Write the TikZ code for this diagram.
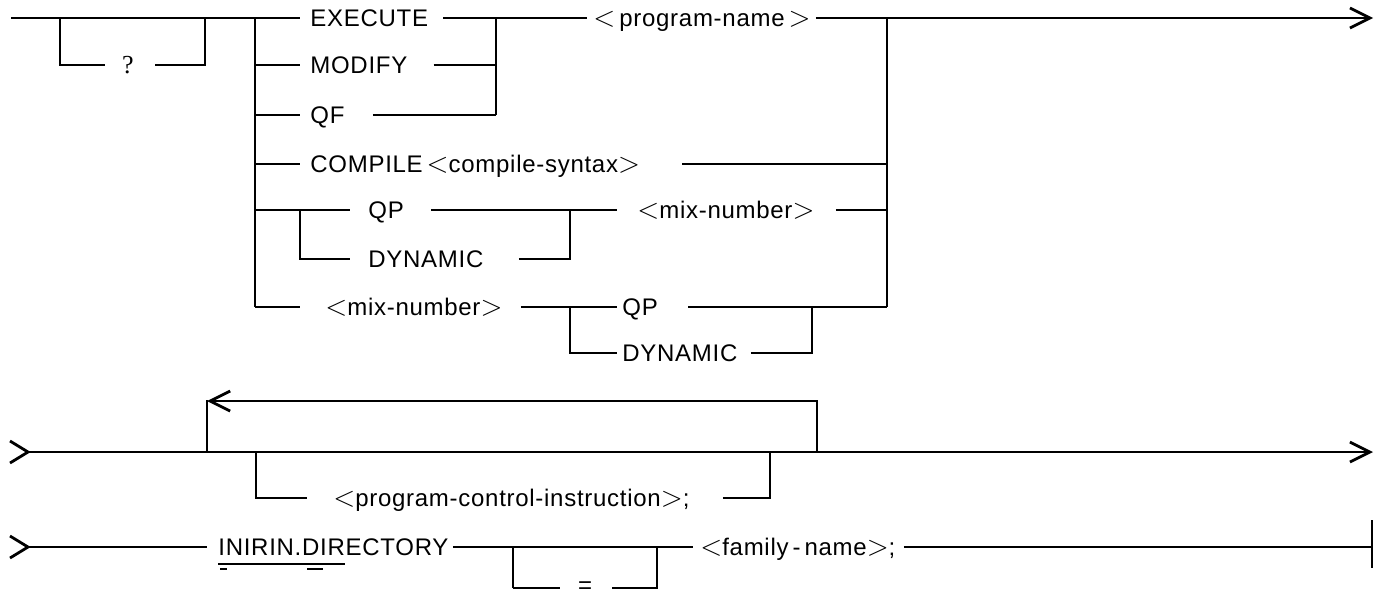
\documentclass[tikz,border=0pt]{standalone}
\usepackage{fontspec}
\setmainfont{Liberation Sans}[LetterSpace=3]
\newfontfamily\qmarkfont{Liberation Serif}
\usetikzlibrary{arrows.meta}
% angle brackets of the metalanguage, set a little larger than the text
\newcommand\metaLt{{\fontsize{14.5}{16}\selectfont\(<\)}}
\newcommand\metaGt{{\fontsize{14.5}{16}\selectfont\(>\)}}
\begin{document}
\begin{tikzpicture}[x=0.5pt,y=-0.5pt,
  rail/.style={line width=1.4pt, line join=miter},
  lbl/.style={anchor=west, inner sep=0pt, text height=8.6pt, text depth=0pt,
              font=\fontsize{12}{14}\selectfont},
  endarrow/.style={-{Straight Barb[length=10pt,width=10pt]}},
  ulmark/.style={line width=0.9pt}]
\useasboundingbox (0,0) rectangle (1379,596);

% ---------- first statement: ? and the command choices ----------
\coordinate (s0)  at (11,18);
\coordinate (qL)  at (60,18);
\coordinate (qR)  at (205,18);
\coordinate (J1t) at (255,18);
\coordinate (J1b) at (255,307);
\coordinate (J2t) at (496,18);
\coordinate (J3t) at (887,18);
\coordinate (J3b) at (887,307);
\coordinate (K1)  at (300,210);
\coordinate (K2)  at (570,210);
\coordinate (K3)  at (570,307);
\coordinate (K4)  at (812,307);
\coordinate (end1) at (1373,18);

\node[lbl, anchor=center, font=\qmarkfont\fontsize{13}{15}\selectfont] (q) at (128,65) {?};
\node[lbl] (exe)  at (310,18)  {EXECUTE};
\node[lbl] (mod)  at (310,65)  {MODIFY};
\node[lbl] (qf)   at (310,115) {QF};
\node[lbl] (cmp)  at (310,164) {COMPILE\,\metaLt compile-syntax\metaGt};
\node[lbl] (qp1)  at (368,210) {QP};
\node[lbl] (dyn1) at (368,259) {DYNAMIC};
\node[lbl] (mixa) at (637,210) {\metaLt mix-number\metaGt};
\node[lbl] (mixb) at (325,307) {\metaLt mix-number\metaGt};
\node[lbl] (qp2)  at (622,307) {QP};
\node[lbl] (dyn2) at (622,353) {DYNAMIC};
\node[lbl] (prog) at (593,18)  {\metaLt\,program-name\,\metaGt};

% optional ?
\draw[rail] (qL) |- ([xshift=-8.5pt]q.west);
\draw[rail] ([xshift=10.5pt]q.east) -| (qR);

% main rail and left branch point
\draw[rail] (s0) -- ([xshift=-5pt]exe.west);
\draw[rail] (J1t) -- (J1b);
\draw[rail] (J1t |- mod) -- ([xshift=-5pt]mod.west);
\draw[rail] (J1t |- qf)  -- ([xshift=-5pt]qf.west);
\draw[rail] (J1t |- cmp) -- ([xshift=-5pt]cmp.west);
\draw[rail] (J1t |- qp1) -- ([xshift=-9pt]qp1.west);
\draw[rail] (J1b) -- ([xshift=-12.5pt]mixb.west);

% EXECUTE / MODIFY / QF  <program-name>
\draw[rail] ([xshift=7.5pt]exe.east) -- ([xshift=-3pt]prog.west);
\draw[rail] (J2t) -- (J2t |- qf);
\draw[rail] ([xshift=13pt]mod.east) -- (J2t |- mod);
\draw[rail] ([xshift=14pt]qf.east)  -- (J2t |- qf);
\draw[rail, endarrow] ([xshift=2.5pt]prog.east) -- (end1);

% COMPILE
\draw[rail] ([xshift=21pt]cmp.east) -- (J3t |- cmp);

% QP / DYNAMIC  <mix-number>
\draw[rail] (K1) |- ([xshift=-9pt]dyn1.west);
\draw[rail] ([xshift=13.5pt]qp1.east) -- ([xshift=-10pt]mixa.west);
\draw[rail] ([xshift=17.5pt]dyn1.east) -| (K2);
\draw[rail] ([xshift=10.5pt]mixa.east) -- (J3t |- mixa);

% <mix-number>  QP / DYNAMIC
\draw[rail] ([xshift=9pt]mixb.east) -- ([xshift=-2.5pt]qp2.west);
\draw[rail] (K3) |- ([xshift=-2.5pt]dyn2.west);
\draw[rail] ([xshift=15pt]qp2.east) -- (J3b);
\draw[rail] ([xshift=6.5pt]dyn2.east) -| (K4);

% right join
\draw[rail] (J3t) -- (J3b);

% ---------- second line: repeated program control instructions ----------
\coordinate (r2s) at (28,452);
\coordinate (L1)  at (207,452);
\coordinate (L1t) at (207,401);
\coordinate (L2)  at (817,452);
\coordinate (L2t) at (817,401);
\coordinate (B1)  at (256,452);
\coordinate (B2)  at (770,452);
\coordinate (end2) at (1373,452);

\node[lbl] (pci) at (333,498) {\metaLt program-control-instruction\metaGt;};

\draw[rail] ([shift={(-18,-11)}]r2s) -- (r2s) -- ([shift={(-18,11)}]r2s);
\draw[rail, endarrow] (r2s) -- (end2);
\draw[rail] (L1) -- ([yshift=0.7pt]L1t);
\draw[rail, endarrow] (L2) |- (L1t);
\draw[rail] (B1) |- ([xshift=-13pt]pci.west);
\draw[rail] ([xshift=16.5pt]pci.east) -| (B2);

% ---------- third line: directory ----------
\coordinate (r3s) at (28,547);
\coordinate (E1)  at (513,547);
\coordinate (E2)  at (657,547);
\coordinate (end3) at (1372,547);

\node[lbl] (dirA) at (218,547) {INIRIN.DIR};
\node[lbl] (dirB) at (dirA.east) {ECTORY};
\node[inner sep=0pt, font=\fontsize{12}{14}\selectfont] (eq) at (585,588) {=};
\node[lbl] (fam) at (700,547) {\metaLt family\,-\,name\metaGt;};

\draw[rail] ([shift={(-18,-11)}]r3s) -- (r3s) -- ([shift={(-18,11)}]r3s);
\draw[rail] (r3s) -- ([xshift=-5.5pt]dirA.west);
\draw[ulmark] ([yshift=-3.8pt]dirA.south west) -- ([yshift=-3.8pt]dirA.south east);
\draw[ulmark] ([xshift=1pt,yshift=-6.5pt]dirA.south west) -- ++(3.5pt,0);
\draw[ulmark] ([xshift=44.5pt,yshift=-6.5pt]dirA.south west) -- ++(8pt,0);
\draw[rail] ([xshift=2pt]dirB.east) -- ([xshift=-3.5pt]fam.west);
\draw[rail] (E1 |- eq) -- (E1);
\draw[rail] (E1 |- eq) -- ([xshift=-9pt]eq.west);
\draw[rail] ([xshift=10pt]eq.east) -- (E2 |- eq) -- (E2);
\draw[rail] ([xshift=4pt]fam.east) -- (end3);
\draw[rail] ([yshift=13.5pt]end3) -- ([yshift=-10.5pt]end3);
\end{tikzpicture}
\end{document}
